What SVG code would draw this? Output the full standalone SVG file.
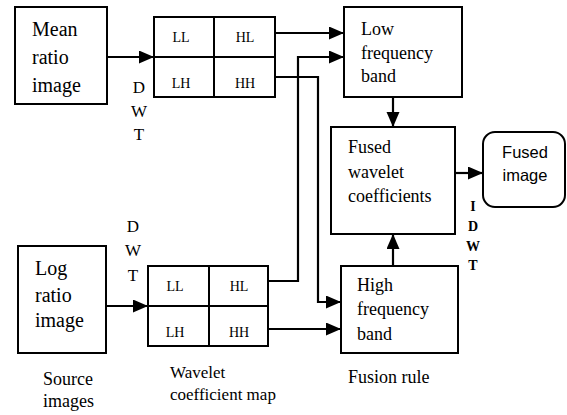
<svg xmlns="http://www.w3.org/2000/svg" width="567" height="415" viewBox="0 0 567 415">
<defs>
<marker id="ah" markerUnits="userSpaceOnUse" markerWidth="16" markerHeight="14" refX="15" refY="6.5" orient="auto">
<path d="M0,0 L15,6.5 L0,13 z" fill="#000"/>
</marker>
</defs>
<style>
.box{fill:#fff;stroke:#000;stroke-width:2}
.ln{fill:none;stroke:#000;stroke-width:2.2}
.ser{font-family:"Liberation Serif","Times New Roman",serif;fill:#000}
.big{font-size:20px}
.mid{font-size:18px}
.sm{font-size:14px}
.cap{font-size:17px}
.bd{font-size:14px;font-weight:bold}
.sans{font-family:"Liberation Sans",Arial,sans-serif;font-size:16.5px;fill:#000}
</style>
<rect width="567" height="415" fill="#fff"/>
<g id="connectors">
<path class="ln" d="M107,57 H154" marker-end="url(#ah)"/>
<path class="ln" d="M275,33 H344" marker-end="url(#ah)"/>
<path class="ln" d="M275,77 H318 V302 H341" marker-end="url(#ah)"/>
<path class="ln" d="M268,281 H298 V57 H344" marker-end="url(#ah)"/>
<path class="ln" d="M268,329 H341" marker-end="url(#ah)"/>
<path class="ln" d="M393,97 V127" marker-end="url(#ah)"/>
<path class="ln" d="M393,266 V234" marker-end="url(#ah)"/>
<path class="ln" d="M455,173 H483" marker-end="url(#ah)"/>
<path class="ln" d="M106,306 H148" marker-end="url(#ah)"/>
</g>
<g id="mean">
<rect class="box" x="15" y="7" width="92" height="97"/>
<text class="ser big" x="32" y="36">Mean</text>
<text class="ser big" x="32" y="64">ratio</text>
<text class="ser big" x="32" y="92">image</text>
</g>
<g id="log">
<rect class="box" x="18" y="246" width="88" height="107"/>
<text class="ser big" x="35" y="275">Log</text>
<text class="ser big" x="35" y="302">ratio</text>
<text class="ser big" x="35" y="327">image</text>
</g>
<g id="grid-top">
<rect class="box" x="154" y="17" width="121" height="80"/>
<path class="ln" d="M214,17 V97 M154,57 H275" style="stroke-width:2"/>
<g class="ser sm" text-anchor="middle">
<text x="181" y="42">LL</text>
<text x="245" y="42">HL</text>
<text x="181" y="88">LH</text>
<text x="245" y="88">HH</text>
</g>
</g>
<g id="grid-bottom">
<rect class="box" x="148" y="266" width="120" height="80"/>
<path class="ln" d="M209,266 V346 M148,306 H268" style="stroke-width:2"/>
<g class="ser sm" text-anchor="middle">
<text x="175" y="291">LL</text>
<text x="239" y="291">HL</text>
<text x="175" y="337">LH</text>
<text x="239" y="337">HH</text>
</g>
</g>
<g id="low">
<rect class="box" x="344" y="7" width="118" height="90"/>
<text class="ser mid" x="361" y="35">Low</text>
<text class="ser mid" x="361" y="59">frequency</text>
<text class="ser mid" x="361" y="82">band</text>
</g>
<g id="fused-coef">
<rect class="box" x="331" y="127" width="124" height="107"/>
<text class="ser mid" x="348" y="153">Fused</text>
<text class="ser mid" x="348" y="178">wavelet</text>
<text class="ser mid" x="348" y="202">coefficients</text>
</g>
<g id="high">
<rect class="box" x="341" y="266" width="117" height="87"/>
<text class="ser mid" x="357" y="291">High</text>
<text class="ser mid" x="357" y="315">frequency</text>
<text class="ser mid" x="357" y="340">band</text>
</g>
<g id="fused-image">
<rect class="box" x="483" y="132" width="82" height="75" rx="12"/>
<text class="sans" x="525" y="158" text-anchor="middle">Fused</text>
<text class="sans" x="525" y="181" text-anchor="middle">image</text>
</g>
<g id="labels">
<g class="ser cap" text-anchor="middle">
<text x="139" y="93">D</text>
<text x="139" y="117">W</text>
<text x="139" y="140">T</text>
<text x="133" y="232">D</text>
<text x="133" y="256">W</text>
<text x="133" y="281">T</text>
</g>
<g class="ser bd" text-anchor="middle">
<text x="473" y="211">I</text>
<text x="473" y="231">D</text>
<text x="473" y="251">W</text>
<text x="473" y="270">T</text>
</g>
<text class="ser mid" x="43" y="385">Source</text>
<text class="ser mid" x="43" y="407">images</text>
<text class="ser cap" x="170" y="378">Wavelet</text>
<text class="ser cap" x="170" y="400">coefficient map</text>
<text class="ser mid" x="348" y="383">Fusion rule</text>
</g>
</svg>
